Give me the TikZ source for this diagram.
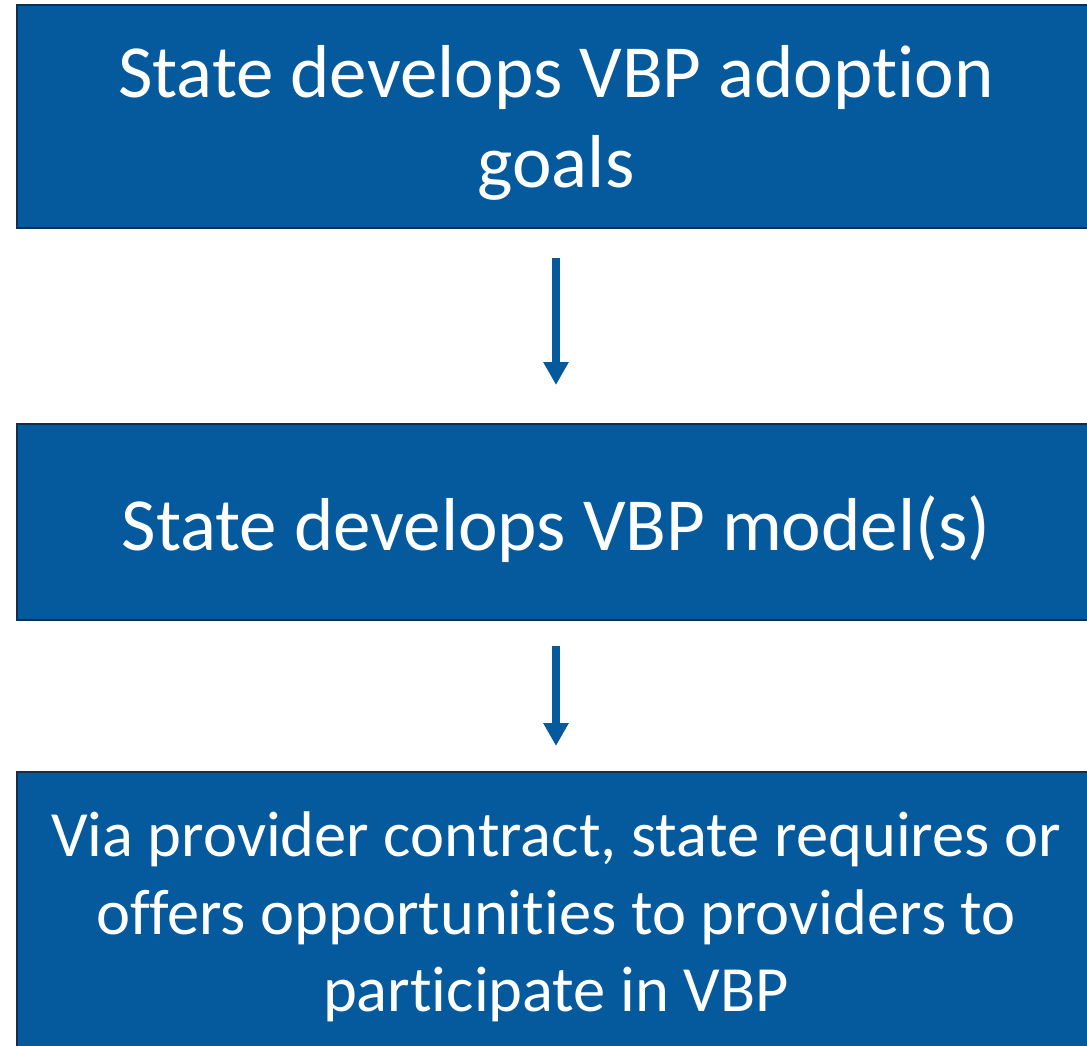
\documentclass[tikz,border=0pt]{standalone}
\usepackage{fontspec}
\setmainfont[Ligatures=NoCommon]{Carlito}
\usetikzlibrary{arrows.meta}
\definecolor{boxblue}{HTML}{045A9C}
\definecolor{boxedge}{HTML}{112E4E}
\begin{document}
\begin{tikzpicture}[x=1pt,y=-1pt,
  box/.style={draw=boxedge, line width=2pt, fill=boxblue,
    inner sep=0pt, minimum width=1078pt},
  txt/.style={text=white, inner sep=0pt, align=center},
  arr/.style={draw=boxblue, line width=8pt,
    -{Triangle[width=24pt,length=23pt]}}]
\useasboundingbox (0,0) rectangle (1087,1045);
\clip (0,0) rectangle (1087,1045);
\node[box, minimum height=223pt] (b1) at (556,116.5) {};
\node[txt, font=\fontsize{75}{90}\selectfont] (t1) at ([yshift=-6.5pt]b1.center)
  {State develops VBP adoption\\goals};
\node[box, minimum height=196pt] (b2) at (556,522) {};
\node[txt, font=\fontsize{75}{90}\selectfont] (t2) at ([yshift=-7pt]b2.center)
  {State develops VBP model(s)};
\node[box, minimum height=288pt] (b3) at (556,916) {};
\node[txt, font=\fontsize{64.5}{77.5}\selectfont] (t3) at ([yshift=-1pt]b3.center)
  {Via provider contract, state requires or\\offers opportunities to providers to\\participate in VBP};
\draw[arr, shorten <=29pt, shorten >=38pt] (b1.south) -- (b2.north);
\draw[arr, shorten <=25pt, shorten >=25pt] (b2.south) -- (b3.north);
\end{tikzpicture}
\end{document}
